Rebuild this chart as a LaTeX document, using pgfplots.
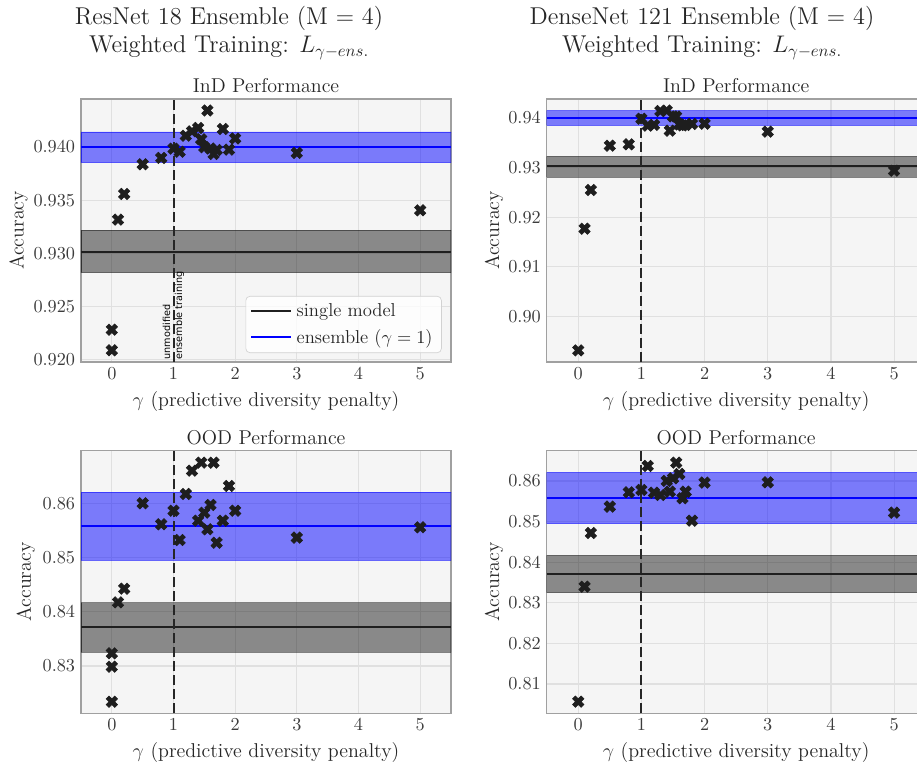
\documentclass[border=0pt]{standalone}
\usepackage{pgfplots}
\pgfplotsset{compat=1.18}
\usepackage{fontspec}
\newfontfamily\dejavu{DejaVu Sans}
\definecolor{bgc}{RGB}{245,245,245}
\definecolor{gridc}{RGB}{224,224,224}
\definecolor{spinec}{RGB}{160,160,160}
\definecolor{txtc}{RGB}{38,38,38}
\definecolor{tickc}{RGB}{60,60,60}
\definecolor{markc}{RGB}{30,30,30}
\definecolor{legc}{RGB}{210,210,210}

\pgfdeclareplotmark{Xf}{%
  \pgfpathmoveto{\pgfqpoint{-0.5\pgfplotmarksize}{-1\pgfplotmarksize}}%
  \pgfpathlineto{\pgfqpoint{0pt}{-0.5\pgfplotmarksize}}%
  \pgfpathlineto{\pgfqpoint{0.5\pgfplotmarksize}{-1\pgfplotmarksize}}%
  \pgfpathlineto{\pgfqpoint{1\pgfplotmarksize}{-0.5\pgfplotmarksize}}%
  \pgfpathlineto{\pgfqpoint{0.5\pgfplotmarksize}{0pt}}%
  \pgfpathlineto{\pgfqpoint{1\pgfplotmarksize}{0.5\pgfplotmarksize}}%
  \pgfpathlineto{\pgfqpoint{0.5\pgfplotmarksize}{1\pgfplotmarksize}}%
  \pgfpathlineto{\pgfqpoint{0pt}{0.5\pgfplotmarksize}}%
  \pgfpathlineto{\pgfqpoint{-0.5\pgfplotmarksize}{1\pgfplotmarksize}}%
  \pgfpathlineto{\pgfqpoint{-1\pgfplotmarksize}{0.5\pgfplotmarksize}}%
  \pgfpathlineto{\pgfqpoint{-0.5\pgfplotmarksize}{0pt}}%
  \pgfpathlineto{\pgfqpoint{-1\pgfplotmarksize}{-0.5\pgfplotmarksize}}%
  \pgfpathclose
  \pgfusepathqfillstroke}

\pgfplotsset{
  panel/.style={
    scale only axis,
    anchor=south west,
    xmin=-0.5, xmax=5.5,
    xtick={0,1,2,3,4,5},
    scaled y ticks=false,
    grid=major,
    major grid style={gridc, line width=0.7pt},
    major tick length=0pt,
    axis background/.style={fill=bgc},
    axis line style={spinec, line width=0.8pt},
    tick label style={font=\fontsize{10.7}{12}\selectfont, text=tickc},
    every axis title/.style={at={(0.5,1)}, anchor=base, yshift=3.8pt,
      font=\fontsize{12}{14}\selectfont, text=txtc},
    every axis x label/.style={at={(axis description cs:0.5,-0.1675)}, anchor=base,
      font=\fontsize{12}{14}\selectfont, text=txtc},
    xlabel={$\gamma$ (predictive diversity penalty)},
    ylabel={Accuracy},
  },
  ylab/.style={every axis y label/.style={at={(axis description cs:#1,0.5)}, rotate=90, anchor=base,
      font=\fontsize{12}{14}\selectfont, text=txtc}},
  graybandstyle/.style={draw=black, fill=black, draw opacity=0.44, fill opacity=0.44, line width=0.5pt, forget plot},
  bluebandstyle/.style={draw=blue, fill=blue, draw opacity=0.5, fill opacity=0.5, line width=0.5pt, forget plot},
  singleline/.style={color=black!88, line width=1.2pt},
  ensline/.style={color=blue, line width=1.2pt},
  vdash/.style={color=black!85, line width=1.2pt, dash pattern=on 6pt off 2.4pt, forget plot},
  pts/.style={only marks, mark=Xf, mark size=3.4pt, mark options={fill=markc, draw=markc, line width=0.4pt}, forget plot},
}

\begin{document}
\begin{tikzpicture}
\useasboundingbox (0pt,0pt) rectangle (550.2pt,457.8pt);
\clip (0pt,0pt) rectangle (550.2pt,457.8pt);

% Suptitles
\node[anchor=base, font=\fontsize{14.6}{17}\selectfont, text=txtc] at (137.4pt,442.8pt) {ResNet 18 Ensemble (M $=$ 4)};
\node[anchor=base, font=\fontsize{14.6}{17}\selectfont, text=txtc] at (137.4pt,426.0pt) {Weighted Training: $L_{\gamma-ens.}$};
\node[anchor=base, font=\fontsize{14.6}{17}\selectfont, text=txtc] at (421.2pt,442.8pt) {DenseNet 121 Ensemble (M $=$ 4)};
\node[anchor=base, font=\fontsize{14.6}{17}\selectfont, text=txtc] at (421.2pt,426.0pt) {Weighted Training: $L_{\gamma-ens.}$};

% ---------------- Top left: ResNet InD ----------------
\begin{axis}[panel, at={(48.6pt,240.6pt)}, width=222pt, height=157.8pt,
  ymin=0.91978, ymax=0.94451,
  ytick={0.920,0.925,0.930,0.935,0.940},
  yticklabel style={/pgf/number format/.cd, fixed, fixed zerofill, precision=3},
  ylab=-0.1554,
  title={InD Performance},
  legend style={at={(0.975,0.034)}, anchor=south east, draw=legc, fill=white,
    fill opacity=0.8, text opacity=1, rounded corners=2.5pt,
    font=\fontsize{11.2}{13}\selectfont, text=txtc,
    inner xsep=2.5pt, inner ysep=1.5pt, row sep=0.5pt, nodes={inner sep=2.8pt}, cells={anchor=west}},
  legend image code/.code={\draw[#1] (0pt,0pt) -- (24pt,0pt);},
]
\addplot[graybandstyle] coordinates {(-0.5,0.92818) (5.5,0.92818) (5.5,0.93219) (-0.5,0.93219) (-0.5,0.92818)};
\addplot[singleline] coordinates {(-0.5,0.93015) (5.5,0.93015)};
\addlegendentry{single model}
\addplot[bluebandstyle] coordinates {(-0.5,0.93852) (5.5,0.93852) (5.5,0.94141) (-0.5,0.94141) (-0.5,0.93852)};
\addplot[ensline] coordinates {(-0.5,0.93996) (5.5,0.93996)};
\addlegendentry{ensemble ($\gamma = 1$)}
\addplot[vdash] coordinates {(1,0.91978) (1,0.94451)};
\node[rotate=90, anchor=west, inner sep=0pt, font=\dejavu\fontsize{5.8}{7.2}\selectfont, align=left, text=black] at (axis cs:1,0.92000) {unmodified\\ensemble training};
\addplot[pts] coordinates {
(0,0.92282) (0,0.92088) (0.1,0.93317) (0.2,0.93558) (0.5,0.93837) (0.8,0.93897)
(1.0,0.93984) (1.1,0.93955) (1.2,0.94106) (1.3,0.94147) (1.4,0.94179) (1.45,0.94072)
(1.5,0.93998) (1.55,0.94343) (1.6,0.93985) (1.65,0.93934) (1.7,0.93972) (1.8,0.94169)
(1.9,0.93975) (2.0,0.94080) (3.0,0.93944) (5.0,0.93404)};
\end{axis}

% ---------------- Top right: DenseNet InD ----------------
\begin{axis}[panel, at={(328.0pt,240.6pt)}, width=227.4pt, height=157.8pt,
  ymin=0.8908, ymax=0.94383,
  ytick={0.90,0.91,0.92,0.93,0.94},
  yticklabel style={/pgf/number format/.cd, fixed, fixed zerofill, precision=2},
  ylab=-0.1253,
  title={InD Performance},
]
\addplot[graybandstyle] coordinates {(-0.5,0.92810) (5.5,0.92810) (5.5,0.93226) (-0.5,0.93226) (-0.5,0.92810)};
\addplot[singleline] coordinates {(-0.5,0.93024) (5.5,0.93024)};
\addplot[bluebandstyle] coordinates {(-0.5,0.93851) (5.5,0.93851) (5.5,0.94147) (-0.5,0.94147) (-0.5,0.93851)};
\addplot[ensline] coordinates {(-0.5,0.93996) (5.5,0.93996)};
\addplot[vdash] coordinates {(1,0.8908) (1,0.94383)};
\addplot[pts] coordinates {
(0,0.89314) (0.1,0.91768) (0.2,0.92548) (0.5,0.93442) (0.8,0.93469)
(1.0,0.93985) (1.1,0.93845) (1.2,0.93860) (1.3,0.94140) (1.4,0.94150) (1.45,0.93745)
(1.5,0.94032) (1.55,0.94030) (1.6,0.93870) (1.65,0.93850) (1.7,0.93860) (1.8,0.93880)
(2.0,0.93885) (3.0,0.93724) (5.0,0.92938)};
\end{axis}

% ---------------- Bottom left: ResNet OOD ----------------
\begin{axis}[panel, at={(48.6pt,29.8pt)}, width=222pt, height=157.6pt,
  ymin=0.82128, ymax=0.8697,
  ytick={0.83,0.84,0.85,0.86},
  yticklabel style={/pgf/number format/.cd, fixed, fixed zerofill, precision=2},
  ylab=-0.1356,
  title={OOD Performance},
]
\addplot[graybandstyle] coordinates {(-0.5,0.83256) (5.5,0.83256) (5.5,0.84166) (-0.5,0.84166) (-0.5,0.83256)};
\addplot[singleline] coordinates {(-0.5,0.83712) (5.5,0.83712)};
\addplot[bluebandstyle] coordinates {(-0.5,0.84948) (5.5,0.84948) (5.5,0.86208) (-0.5,0.86208) (-0.5,0.84948)};
\addplot[ensline] coordinates {(-0.5,0.85581) (5.5,0.85581)};
\addplot[vdash] coordinates {(1,0.82128) (1,0.8697)};
\addplot[pts] coordinates {
(0,0.82342) (0,0.82988) (0,0.83234) (0.1,0.84174) (0.2,0.84426) (0.5,0.86000) (0.8,0.85613)
(1.0,0.85863) (1.1,0.85323) (1.2,0.86172) (1.3,0.86601) (1.4,0.85679) (1.45,0.86749)
(1.5,0.85827) (1.55,0.85520) (1.6,0.85969) (1.65,0.86749) (1.7,0.85273) (1.8,0.85679)
(1.9,0.86319) (2.0,0.85863) (3.0,0.85367) (5.0,0.85557)};
\end{axis}

% ---------------- Bottom right: DenseNet OOD ----------------
\begin{axis}[panel, at={(328.0pt,29.8pt)}, width=227.4pt, height=157.6pt,
  ymin=0.80278, ymax=0.86746,
  ytick={0.81,0.82,0.83,0.84,0.85,0.86},
  yticklabel style={/pgf/number format/.cd, fixed, fixed zerofill, precision=2},
  ylab=-0.1253,
  title={OOD Performance},
]
\addplot[graybandstyle] coordinates {(-0.5,0.83250) (5.5,0.83250) (5.5,0.84170) (-0.5,0.84170) (-0.5,0.83250)};
\addplot[singleline] coordinates {(-0.5,0.83717) (5.5,0.83717)};
\addplot[bluebandstyle] coordinates {(-0.5,0.84948) (5.5,0.84948) (5.5,0.86214) (-0.5,0.86214) (-0.5,0.84948)};
\addplot[ensline] coordinates {(-0.5,0.85581) (5.5,0.85581)};
\addplot[vdash] coordinates {(1,0.80278) (1,0.86746)};
\addplot[pts] coordinates {
(0,0.80565) (0.1,0.83397) (0.2,0.84719) (0.5,0.85368) (0.8,0.85721)
(1.0,0.85778) (1.1,0.86369) (1.2,0.85712) (1.3,0.85655) (1.4,0.86000) (1.45,0.85737)
(1.5,0.86066) (1.55,0.86451) (1.6,0.86172) (1.65,0.85574) (1.7,0.85737) (1.8,0.85022)
(2.0,0.85959) (3.0,0.85967) (5.0,0.85220)};
\end{axis}
\end{tikzpicture}
\end{document}
